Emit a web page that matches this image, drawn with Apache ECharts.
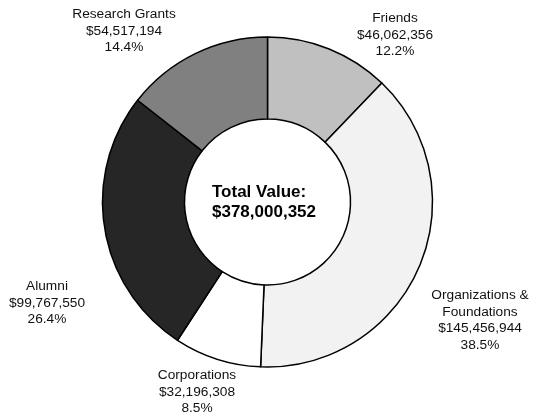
<!DOCTYPE html>
<html>
<head>
<meta charset="utf-8">
<script src="https://cdn.jsdelivr.net/npm/echarts@6/dist/echarts.min.js"></script>
<style>
  html, body { margin: 0; padding: 0; background: #fff; }
  #main { width: 533px; height: 417px; }
</style>
</head>
<body>
<div id="main"></div>
<script>
var categories = ['Friends', 'Organizations &\nFoundations', 'Corporations', 'Alumni', 'Research Grants'];
var values = [46062356, 145456944, 32196308, 99767550, 54517194];
var colors = ['#c0c0c0', '#f2f2f2', '#ffffff', '#262626', '#808080'];
// where each label's centre sits on the page
var labelPos = [[395, 35], [480, 320], [197, 392], [47, 303], [124, 31]];

function money(v) {
    return '$' + v.toLocaleString('en-US');
}

var total = values.reduce(function (a, b) { return a + b; }, 0);

var dom = document.getElementById('main');
var myChart = echarts.init(dom);

var option = {
    animation: false,
    color: colors,
    graphic: [{
        type: 'text',
        x: 212,
        y: 202,
        style: {
            text: 'Total Value:\n' + money(total),
            font: 'bold 17px "Liberation Sans", Arial, sans-serif',
            align: 'left',
            verticalAlign: 'middle',
            lineHeight: 20,
            fill: '#000'
        }
    }],
    series: [{
        type: 'pie',
        center: [267.5, 202],
        radius: [83, 165],
        startAngle: 90,
        clockwise: true,
        avoidLabelOverlap: false,
        percentPrecision: 1,
        itemStyle: {
            borderColor: '#000',
            borderWidth: 1.5
        },
        label: {
            show: true,
            position: 'outside',
            color: '#111',
            fontFamily: '"Liberation Sans", Arial, sans-serif',
            fontSize: 13.7,
            lineHeight: 16.5,
            formatter: function (p) {
                return p.name + '\n' + money(p.value) + '\n' + p.percent.toFixed(1) + '%';
            }
        },
        labelLine: { show: false },
        labelLayout: function (p) {
            var pos = labelPos[p.dataIndex];
            return { x: pos[0], y: pos[1], align: 'center', verticalAlign: 'middle' };
        },
        emphasis: { disabled: true },
        data: categories.map(function (c, i) {
            return { name: c, value: values[i] };
        })
    }]
};
myChart.setOption(option, true);
window.onresize = myChart.resize;
</script>
</body>
</html>
